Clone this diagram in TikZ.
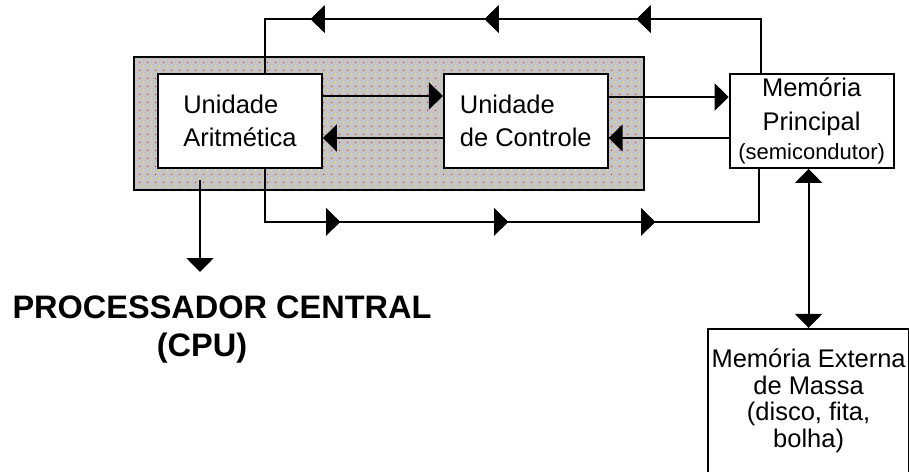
\documentclass[tikz,border=0pt]{standalone}
\usepackage{fontspec}
\setmainfont{Liberation Sans}
\usetikzlibrary{positioning, arrows.meta, decorations.markings}

\begin{document}
\begin{tikzpicture}[
                x=1pt, y=-1pt,
                line width=1.8pt,
                node distance=120pt,
                unit/.style={
                        draw,
                        fill=white,
                        minimum width=164pt,
                        minimum height=94pt,
                        inner sep=0pt,
                        font=\fontsize{25.5}{33}\selectfont
                    },
                link/.style={-{Triangle[length=14pt, width=27pt]}},
                flow/.style={
                        postaction={decorate},
                        decoration={markings,
                                mark=at position #1 with {\arrow{Triangle[length=14pt, width=27pt]}}}
                    }
            ]

            \useasboundingbox (0,0) rectangle (909,471);
            \clip (0,0) rectangle (909,471);

            % shaded processor area with its red and yellow dots
            \node[fill=black!23, minimum width=508pt, minimum height=131pt] (cpubox) at (389,123.5) {};
            \foreach \i in {0,...,62}
            \foreach \j in {0,...,15} {
                    \fill[red] (139+8*\i, 62+8*\j) rectangle ++(1.4,1.4);
                    \fill[yellow] (143+8*\i, 66+8*\j) rectangle ++(1.4,1.4);
                }
            \draw (cpubox.north west) rectangle (cpubox.south east);

            \node[unit, align=left] (ua) at (240,121) {Unidade\\Aritmética};
            \node[unit, align=left] (uc) [right=of ua] {Unidade\\de Controle};
            \node[unit, align=center, font=\fontsize{25.5}{34}\selectfont] (mp) [right=of uc]
            {Memória\\Principal\\[-5pt]{\fontsize{22}{29}\selectfont(semicondutor)}};

            \node[draw, fill=white, minimum width=201pt, minimum height=160pt] (ext)
            [below=159pt of mp, xshift=-3pt] {};
            \node[anchor=north, inner sep=0pt, align=center, font=\fontsize{25.5}{26.5}\selectfont] (exttxt)
            at ([yshift=-20pt]ext.north) {Memória Externa\\de Massa\\(disco, fita,\\bolha)};

            \node[anchor=north, inner xsep=0pt, inner ysep=23pt, align=center,
                font=\fontsize{32.5}{38}\selectfont\bfseries] (cpu) at (222,272)
            {PROCESSADOR CENTRAL\\(CPU)\hspace*{40pt}};
            \coordinate (cpuout) at (200,180);


            \draw[link] ([yshift=25pt]ua.east) -- ([yshift=25pt]uc.west);
            \draw[link] ([yshift=-17pt]uc.west) -- ([yshift=-17pt]ua.east);
            \draw[link] ([yshift=24pt]uc.east) -- ([yshift=24pt]mp.west);
            \draw[link] ([yshift=-17pt]mp.west) -- ([yshift=-17pt]uc.east);

            \draw[flow=178pt, flow=330pt, flow=504pt]
            ([xshift=32pt]mp.north west) -- ++(0,-54) -| ([xshift=25pt]ua.north);
            \draw[flow=128pt, flow=296pt, flow=443pt]
            ([xshift=25pt]ua.south) -- ++(0,53) -| ([xshift=30pt]mp.south west);

            \draw[{Triangle[length=14pt, width=27pt]}-{Triangle[length=14pt, width=27pt]}]
            (ext.north |- mp.south) -- (ext.north);
            \draw[link] (cpuout) -- (cpuout |- cpu.north);


        \end{tikzpicture}
\end{document}
